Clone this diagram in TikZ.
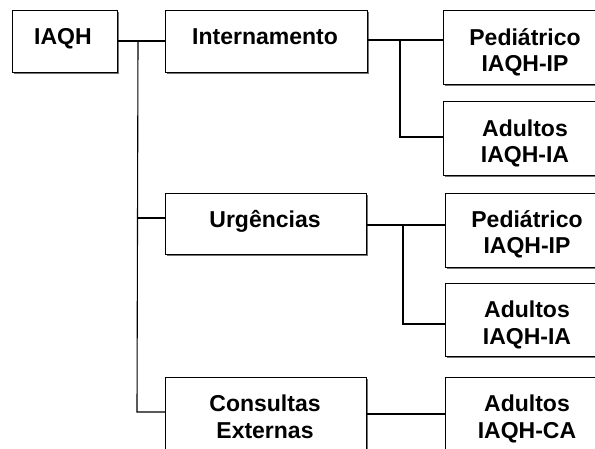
\documentclass[tikz,border=0pt]{standalone}
\usepackage{fontspec}
\setmainfont{Liberation Sans}
\usetikzlibrary{shadows}
\begin{document}
\begin{tikzpicture}[x=1pt,y=-1pt,
  boxnode/.style={draw=black,line width=1.4pt,fill=white,inner sep=0pt,anchor=north west,
    drop shadow={shadow xshift=1.6pt,shadow yshift=-1.6pt,fill=black!55,opacity=1}},
  txt/.style={anchor=base,inner sep=0pt,font=\fontsize{23}{26}\selectfont\bfseries},
  conn/.style={draw=black,line width=1.1pt}]
\useasboundingbox (0,0) rectangle (595,448);
\clip (0,0) rectangle (595,448);
% boxes
\node[boxnode,minimum width=105pt,minimum height=62pt] (iaqh) at (12,10) {};
\node[boxnode,minimum width=202pt,minimum height=62pt] (intern) at (165,10) {};
\node[boxnode,minimum width=201pt,minimum height=61pt] (urg) at (165,193) {};
\node[boxnode,minimum width=201pt,minimum height=75pt] (cons) at (165,377) {};
\node[boxnode,minimum width=164pt,minimum height=74pt] (p1) at (443,10) {};
\node[boxnode,minimum width=164pt,minimum height=74pt] (a1) at (443,101) {};
\node[boxnode,minimum width=162pt,minimum height=74pt] (p2) at (445,193) {};
\node[boxnode,minimum width=162pt,minimum height=73pt] (a2) at (445,283) {};
\node[boxnode,minimum width=162pt,minimum height=75pt] (ca) at (445,377) {};
% texts
\node[txt] (tiaqh) at (63,44) {IAQH};
\node[txt] (tintern) at (265,44) {Internamento};
\node[txt] (turg) at (265,227) {Urgências};
\node[txt] (tcons1) at (265,411) {Consultas};
\node[txt] (tcons2) at (265,438) {Externas};
\node[txt] (tp1a) at (525,45) {Pediátrico};
\node[txt] (tp1b) at (525,71) {IAQH-IP};
\node[txt] (ta1a) at (525,136) {Adultos};
\node[txt] (ta1b) at (525,162) {IAQH-IA};
\node[txt] (tp2a) at (527,227) {Pediátrico};
\node[txt] (tp2b) at (527,253) {IAQH-IP};
\node[txt] (ta2a) at (527,317) {Adultos};
\node[txt] (ta2b) at (527,344) {IAQH-IA};
\node[txt] (tcaa) at (527,411) {Adultos};
\node[txt] (tcab) at (527,438) {IAQH-CA};
% connector coordinates
\coordinate (j0) at (138,41);
\coordinate (j0u) at (138,218);
\coordinate (j0c) at (137,412);
\coordinate (j1) at (400,40);
\coordinate (j1b) at (400,137);
\coordinate (j2) at (403,225);
\coordinate (j2b) at (403,324);
% connectors
\draw[conn] (iaqh.east |- j0) -- (intern.west |- j0);
\draw[conn] (j0) -- (j0c) -- (cons.west |- j0c);
\draw[conn] (j0u) -- (urg.west |- j0u);
\draw[conn] (intern.east |- j1) -- (p1.west |- j1);
\draw[conn] (j1) -- (j1b) -- (a1.west |- j1b);
\draw[conn] (urg.east |- j2) -- (p2.west |- j2);
\draw[conn] (j2) -- (j2b) -- (a2.west |- j2b);
\draw[conn] (cons.east |- 0,414) -- (ca.west |- 0,414);
\end{tikzpicture}
\end{document}
